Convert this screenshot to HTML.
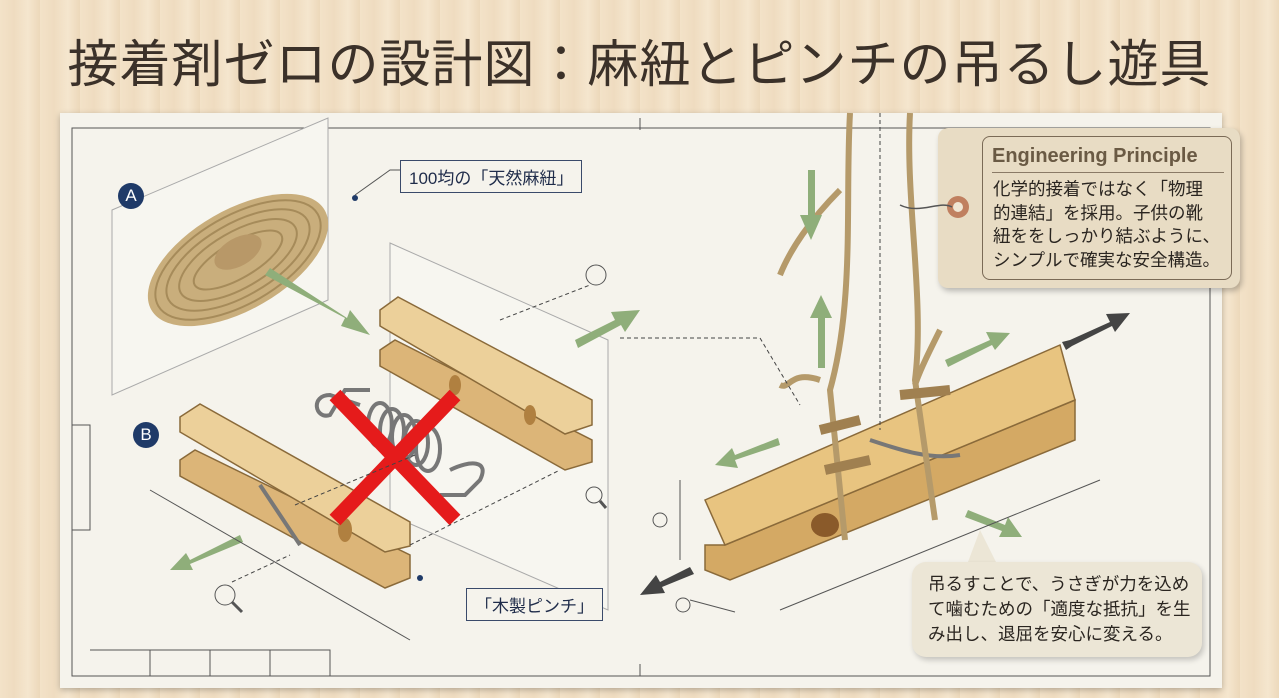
<!DOCTYPE html>
<html><head><meta charset="utf-8">
<style>
html,body{margin:0;padding:0}
body{width:1279px;height:698px;overflow:hidden;position:relative;
background:repeating-linear-gradient(90deg,#f3e2c8 0,#efdcc0 14px,#f5e6ce 28px,#ecd8ba 40px);
font-family:"Liberation Sans","Noto Sans CJK JP",sans-serif;}
.title{position:absolute;left:0;width:1279px;top:30px;text-align:center;font-size:51px;color:#3b3129;letter-spacing:1px;line-height:70px}
.paper{position:absolute;left:60px;top:113px;width:1162px;height:575px;background:#f5f3ec;box-shadow:0 2px 6px rgba(0,0,0,.25)}
svg{position:absolute;left:0;top:0}
.lbl{position:absolute;font-size:17px;color:#1f2c4a;border:1.5px solid #3a4a6a;padding:3px 8px;background:#f5f3ec}
.tag{position:absolute;left:938px;top:128px;width:302px;height:160px;background:#e8dcc4;border-radius:10px;box-shadow:2px 3px 6px rgba(0,0,0,.25)}
.tagin{position:absolute;left:44px;top:8px;right:8px;bottom:8px;border:1.5px solid #7a6a56;border-radius:8px}
.tag h3{margin:0;position:absolute;left:54px;top:17px;font-size:20px;color:#6a5a44;font-weight:bold;border-bottom:1.5px solid #8a7a66;width:232px;padding-bottom:4px}
.tag p{margin:0;position:absolute;left:55px;top:50px;font-size:17.5px;line-height:23.5px;color:#2a2520;width:250px;white-space:nowrap}
.bub{position:absolute;left:912px;top:562px;width:290px;height:95px;background:#ece6d6;border-radius:14px;box-shadow:2px 3px 6px rgba(0,0,0,.2)}
.bub p{margin:0;padding:10px 0 0 16px;font-size:17.5px;line-height:25px;color:#2a2520;white-space:nowrap}
.circ{position:absolute;width:26px;height:26px;border-radius:50%;background:#1f3a68;color:#fff;font-size:17px;text-align:center;line-height:26px}
</style></head><body>
<div class="title">接着剤ゼロの設計図：麻紐とピンチの吊るし遊具</div>
<div class="paper"></div>
<svg width="1279" height="698">
<g fill="none" stroke="#555" stroke-width="1">
<rect x="72" y="128" width="1138" height="548"/>
<path d="M72 425 H90 V530 H72 M90 650 H330 V676 M150 650 V676 M210 650V676 M270 650V676"/>
<path d="M640 118 V130 M640 664 V676"/>
</g>
<polygon points="112,210 328,118 328,300 112,395" fill="#f7f6f0" stroke="#aaa"/>
<polygon points="390,243 608,340 608,610 390,515" fill="#f7f6f0" stroke="#aaa"/>
<ellipse cx="238" cy="260" rx="100" ry="50" transform="rotate(-30 238 260)" fill="#c9ae7c"/>
<g fill="none" stroke="#a68b5a" stroke-width="2">
<ellipse cx="238" cy="260" rx="92" ry="44" transform="rotate(-30 238 260)"/>
<ellipse cx="238" cy="260" rx="80" ry="36" transform="rotate(-30 238 260)"/>
<ellipse cx="238" cy="260" rx="66" ry="28" transform="rotate(-30 238 260)"/>
<ellipse cx="238" cy="260" rx="50" ry="18" transform="rotate(-30 238 260)"/>
</g>
<ellipse cx="238" cy="252" rx="26" ry="14" transform="rotate(-30 238 252)" fill="#b89868"/>
<g stroke="#8a6a3a" stroke-width="1.5">
<polygon points="380,350 395,340 592,440 592,462 565,470 380,366" fill="#dcb578"/>
<polygon points="380,310 398,297 592,400 592,425 565,434 380,326" fill="#ecd09a"/>
<polygon points="180,460 195,450 410,555 410,578 385,588 180,476" fill="#dcb578"/>
<polygon points="180,417 200,404 410,522 410,546 385,552 180,432" fill="#ecd09a"/>
<polygon points="705,545 725,545 1075,400 1075,440 730,580 705,570" fill="#d4a964"/>
<polygon points="705,500 1060,345 1075,400 725,545" fill="#e8c480"/>
</g>
<ellipse cx="455" cy="385" rx="6" ry="10" fill="#b08040"/><ellipse cx="530" cy="415" rx="6" ry="10" fill="#b08040"/><ellipse cx="345" cy="530" rx="7" ry="12" fill="#b08040"/>
<ellipse cx="825" cy="525" rx="14" ry="12" fill="#8a5a2a"/>
<g fill="none" stroke="#777" stroke-width="4">
<ellipse cx="380" cy="425" rx="12" ry="22"/><ellipse cx="392" cy="431" rx="12" ry="22"/><ellipse cx="404" cy="437" rx="12" ry="22"/><ellipse cx="416" cy="443" rx="12" ry="22"/><ellipse cx="428" cy="449" rx="12" ry="22"/>
<path d="M360 405 L330 395 C310 395 315 420 330 415 L345 390 L370 390 M450 470 C470 460 490 460 480 480 L465 495 L440 495"/>
<path d="M870 440 C900 450 930 460 960 455 M260 485 L300 545"/>
</g>
<path d="M335 395 L455 520 M455 395 L335 520" stroke="#e51b1b" stroke-width="15"/>
<g fill="none" stroke="#b59a6a" stroke-width="6">
<path d="M850 113 C845 200 855 300 830 390 L845 540"/>
<path d="M910 113 C905 200 925 300 915 380 L935 520"/>
<path d="M840 190 C810 220 790 250 780 275"/>
<path d="M820 380 C790 370 790 390 780 385 M940 330 C930 350 920 370 915 385"/>
</g>
<g fill="none" stroke="#a08050" stroke-width="10">
<path d="M820 430 L860 420 M900 395 L950 390 M825 470 L870 460"/>
</g>
<g fill="#8fae7a">
<polygon points="265,275 345,318 341,326 370,335 350,310 347,318 270,268"/>
<polygon points="575,340 615,320 611,312 640,310 625,332 621,325 578,348"/>
<polygon points="808,170 815,170 815,215 822,215 811,240 800,215 808,215"/>
<polygon points="818,368 825,368 825,318 832,318 821,295 810,318 818,318"/>
<polygon points="945,360 990,340 986,332 1010,333 995,350 992,345 948,367"/>
<polygon points="780,445 735,460 738,468 715,465 732,448 735,455 778,438"/>
<polygon points="968,510 1005,525 1008,517 1022,537 999,537 1002,531 965,517"/>
<polygon points="240,535 190,560 186,553 170,570 193,570 190,564 243,542"/>
</g>
<g fill="#444">
<polygon points="690,567 660,582 656,575 640,595 665,593 662,587 694,574"/>
<polygon points="1070,340 1110,322 1106,314 1130,313 1115,332 1112,326 1072,346 1066,350 1062,342"/>
</g>
<g fill="none" stroke="#444" stroke-width="1" stroke-dasharray="4 3">
<path d="M620 338 H760 L800 405 M880 113 V430 M295 505 L415 455 M410 545 L560 470 M500 320 L590 285 M232 582 L290 555"/>
</g>
<g fill="none" stroke="#555" stroke-width="1">
<path d="M150 490 L410 640 M690 600 L735 612 M780 610 L1100 480 M680 480 V560 M355 195 L390 170 H400"/>
<circle cx="596" cy="275" r="10"/><circle cx="225" cy="595" r="10"/><circle cx="594" cy="495" r="8"/>
<circle cx="660" cy="520" r="7"/><circle cx="683" cy="605" r="7"/>
<path d="M232 602 L242 612 M600 501 L606 508" stroke-width="3"/>
</g>
<circle cx="355" cy="198" r="3" fill="#1f3a68"/><circle cx="420" cy="578" r="3" fill="#1f3a68"/>
<polygon points="940,160 975,130 975,285 940,260" fill="#e8dcc4"/>
<polygon points="965,570 980,530 1000,570" fill="#ece6d6"/>
</svg>
<div class="tag"><div class="tagin"></div><h3>Engineering Principle</h3><p>化学的接着ではなく「物理<br>的連結」を採用。子供の靴<br>紐ををしっかり結ぶように、<br>シンプルで確実な安全構造。</p></div>
<svg width="1279" height="698" style="pointer-events:none"><circle cx="958" cy="207" r="11" fill="#c08060"/><circle cx="958" cy="207" r="5" fill="#f0e6d4"/><path d="M900 205 C920 215 940 200 952 207" fill="none" stroke="#555" stroke-width="1.5"/></svg>
<div class="bub"><p>吊るすことで、うさぎが力を込め<br>て噛むための「適度な抵抗」を生<br>み出し、退屈を安心に変える。</p></div>
<div class="lbl" style="left:400px;top:160px">100均の「天然麻紐」</div>
<div class="lbl" style="left:466px;top:588px">「木製ピンチ」</div>
<div class="circ" style="left:118px;top:183px">A</div>
<div class="circ" style="left:133px;top:422px">B</div>
</body></html>
